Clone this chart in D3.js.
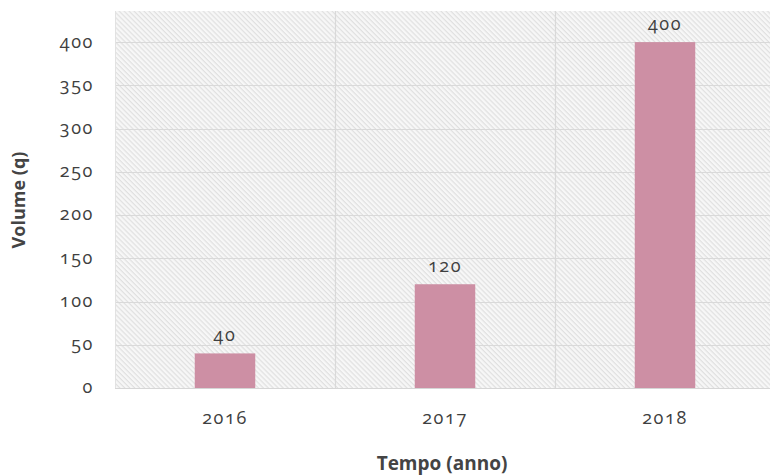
<!DOCTYPE html>
<html>
<head>
<meta charset="utf-8">
<script src="https://cdn.jsdelivr.net/npm/d3@7"></script>
<style>
  html, body { margin: 0; padding: 0; background: #fff; }
  svg { display: block; }
  text { font-family: "Open Sans", Lato, sans-serif; font-variant-numeric: oldstyle-nums; font-feature-settings: "onum" 1; }
  .num { letter-spacing: 1.6px; }
</style>
</head>
<body>
<svg id="chart" width="770" height="476"></svg>
<script>
// Volume per year
const years = ["2016", "2017", "2018"];
const volumes = [40, 120, 400];
const yTicks = [0, 50, 100, 150, 200, 250, 300, 350, 400];
const xTitle = "Tempo (anno)";
const yTitle = "Volume (q)";

const svg = d3.select("#chart");
const plot = { left: 115, right: 775, top: 11, bottom: 388 };

const x = d3.scaleBand().domain(years).range([plot.left, plot.right]).padding(0);
const y = d3.scaleLinear().domain([0, 436]).range([plot.bottom, plot.top]);

// Diagonal hatch fill for the plot background
const defs = svg.append("defs");
const pat = defs.append("pattern")
  .attr("id", "hatch")
  .attr("patternUnits", "userSpaceOnUse")
  .attr("width", 3.5).attr("height", 3.5)
  .attr("patternTransform", "rotate(45)");
pat.append("rect").attr("width", 3.5).attr("height", 3.5).attr("fill", "#f7f7f7");
pat.append("rect").attr("width", 3.5).attr("height", 1.2).attr("fill", "#e0e0e0");

svg.append("rect")
  .attr("x", plot.left).attr("y", plot.top)
  .attr("width", plot.right - plot.left).attr("height", plot.bottom - plot.top)
  .attr("fill", "url(#hatch)");

// Horizontal gridlines
svg.append("g").selectAll("line").data(yTicks.filter(d => d > 0)).join("line")
  .attr("x1", plot.left).attr("x2", plot.right)
  .attr("y1", d => Math.round(y(d)) + 0.5).attr("y2", d => Math.round(y(d)) + 0.5)
  .attr("stroke", "#d9d9d9").attr("stroke-width", 1.2);

// Vertical category separators
svg.append("g").selectAll("line").data(years.slice(1)).join("line")
  .attr("x1", d => x(d) + 0.5).attr("x2", d => x(d) + 0.5)
  .attr("y1", plot.top).attr("y2", plot.bottom)
  .attr("stroke", "#d9d9d9").attr("stroke-width", 1.2);

// Left edge and baseline
svg.append("line")
  .attr("x1", plot.left + 0.5).attr("x2", plot.left + 0.5)
  .attr("y1", plot.top).attr("y2", plot.bottom)
  .attr("stroke", "#e2e2e2");
svg.append("line")
  .attr("x1", plot.left).attr("x2", plot.right)
  .attr("y1", plot.bottom + 0.5).attr("y2", plot.bottom + 0.5)
  .attr("stroke", "#d6d6d6");

// Bars
const barW = x.bandwidth() * 0.275;
svg.append("g").selectAll("rect").data(years).join("rect")
  .attr("x", d => x(d) + x.bandwidth() / 2 - barW / 2)
  .attr("y", (d, i) => y(volumes[i]))
  .attr("width", barW)
  .attr("height", (d, i) => y(0) - y(volumes[i]))
  .attr("fill", "#cd8fa4");

// Value labels
svg.append("g").selectAll("text").data(years).join("text")
  .attr("class", "num")
  .attr("x", d => x(d) + x.bandwidth() / 2)
  .attr("y", (d, i) => y(volumes[i]) - 12)
  .attr("text-anchor", "middle")
  .attr("font-size", 18)
  .attr("fill", "#404040")
  .text((d, i) => volumes[i]);

// Y axis tick labels
svg.append("g").selectAll("text").data(yTicks).join("text")
  .attr("class", "num")
  .attr("x", 94)
  .attr("y", d => y(d))
  .attr("dy", "0.3em")
  .attr("text-anchor", "end")
  .attr("font-size", 18)
  .attr("fill", "#404040")
  .text(d => d);

// X axis tick labels
svg.append("g").selectAll("text").data(years).join("text")
  .attr("class", "num")
  .attr("x", d => x(d) + x.bandwidth() / 2)
  .attr("y", 424)
  .attr("text-anchor", "middle")
  .attr("font-size", 18)
  .attr("fill", "#404040")
  .text(d => d);

// Axis titles
svg.append("text")
  .attr("x", 442).attr("y", 470)
  .attr("text-anchor", "middle")
  .attr("font-size", 19).attr("font-weight", "bold")
  .attr("fill", "#444")
  .text(xTitle);

svg.append("text")
  .attr("transform", "translate(25,200) rotate(-90)")
  .attr("text-anchor", "middle")
  .attr("font-size", 18).attr("font-weight", "bold")
  .attr("fill", "#444")
  .text(yTitle);
</script>
</body>
</html>
